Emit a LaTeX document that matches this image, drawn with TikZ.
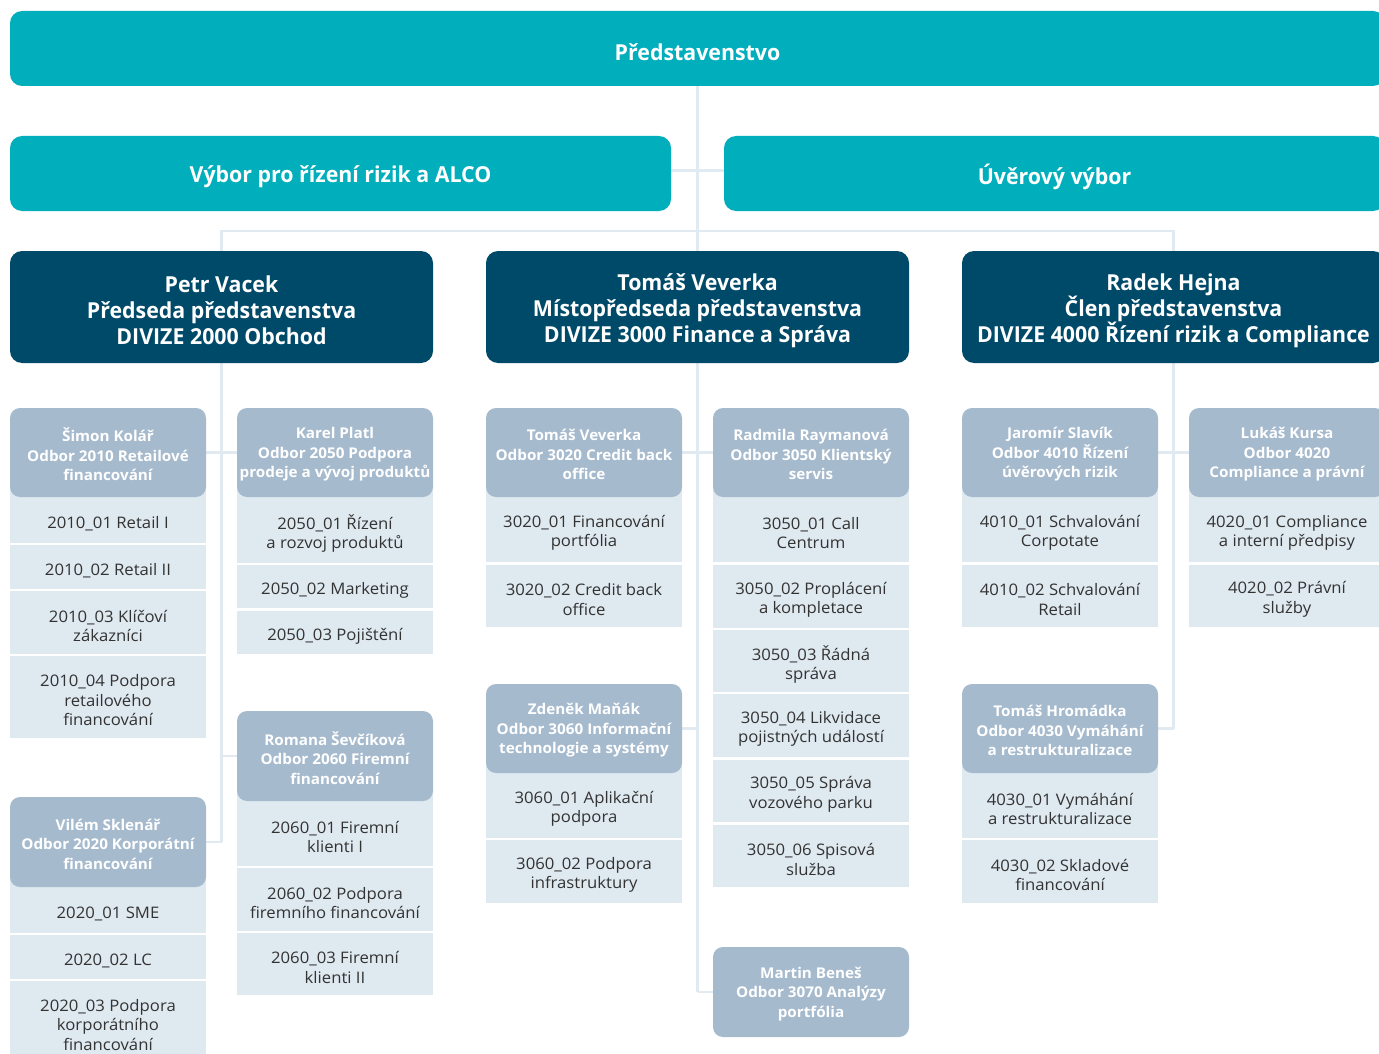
\documentclass[tikz,border=0pt]{standalone}
\usepackage{fontspec}
\setmainfont{Open Sans}
\newfontfamily\topfont{Open Sans}[FakeStretch=0.97]
\newfontfamily\subfont{Open Sans}[FakeStretch=1.05]
\newfontfamily\hdrfont{Open Sans}[FakeStretch=1.03]
\definecolor{tealc}{HTML}{00AEBC}
\definecolor{darkc}{HTML}{004A69}
\definecolor{hdrc}{HTML}{A6BACE}
\definecolor{itemc}{HTML}{DFE9F0}
\definecolor{connc}{HTML}{E2EAF1}
\definecolor{txtc}{HTML}{333333}
\pgfdeclarelayer{bg}
\pgfsetlayers{bg,main}
\tikzset{
  base/.style={inner sep=0pt, align=center},
  topbox/.style={base, fill=tealc, rounded corners=12pt, text=white, font=\topfont\bfseries\fontsize{22}{26}\selectfont, tshift/.initial=3.5pt},
  divbox/.style={base, fill=darkc, rounded corners=12pt, text=white, font=\topfont\bfseries\fontsize{22}{26}\selectfont, tshift/.initial=3.5pt},
  subhdr/.style={base, fill=hdrc, rounded corners=10pt, text=white, font=\hdrfont\bfseries\fontsize{14.8}{19.5}\selectfont, tshift/.initial=2pt},
  cell/.style={base, fill=itemc, text=txtc, font=\subfont\fontsize{15.9}{19.5}\selectfont, tshift/.initial=3.5pt},
  conn/.style={draw=connc, line width=2.5pt}
}
\newcommand\bx[7]{%
  \node[#1, minimum width={(#5-#3)*1pt}, minimum height={(#6-#4)*1pt}] (#2) at ({(#3+#5)/2},{(#4+#6)/2}) {};
  \node[#1, fill=none, minimum width=0pt, minimum height=0pt] (#2t) at ([yshift={-\pgfkeysvalueof{/tikz/tshift}}]#2.center) {#7};}
% header with backing: name, x, ytop, ybot, text
\newcommand\hd[5]{%
  \fill[itemc] (#2,{(#3+#4)/2}) rectangle ({#2+196},{#4+1});
  \bx{subhdr}{#1}{#2}{#3}{#2+196}{#4}{#5}}
\newcommand\hdn[5]{\bx{subhdr}{#1}{#2}{#3}{#2+196}{#4}{#5}}
\newcommand\cl[5]{\bx{cell}{#1}{#2}{#3}{#2+196}{#4}{#5}}
\tikzset{tshift/.initial=0pt}
\begin{document}
\begin{tikzpicture}[x=1pt,y=-1pt]
\useasboundingbox (0,0) rectangle (1379,1054);
\begin{scope}
\clip (0,0) rectangle (1379,1054);
% top levels
\bx{topbox}{top}{10}{11}{1385}{86}{Představenstvo}
\bx{topbox}{c1}{10}{136}{671}{211}{Výbor pro řízení rizik a ALCO}
\bx{topbox}{c2}{724}{136}{1385}{211}{Úvěrový výbor}
\bx{divbox}{d1}{10}{251}{433}{363}{Petr Vacek\\Předseda představenstva\\DIVIZE 2000 Obchod}
\bx{divbox}{d3}{486}{251}{909}{363}{Tomáš Veverka\\Místopředseda představenstva\\DIVIZE 3000 Finance a Správa}
\bx{divbox}{d4}{962}{251}{1385}{363}{Radek Hejna\\Člen představenstva\\DIVIZE 4000 Řízení rizik a Compliance}

% column A
\cl{a1}{10}{497}{543}{2010\_01 Retail I}
\cl{a2}{10}{545}{589}{2010\_02 Retail II}
\cl{a3}{10}{591}{654}{2010\_03 Klíčoví\\zákazníci}
\cl{a4}{10}{656}{738}{2010\_04 Podpora\\retailového\\financování}
\hd{s2010}{10}{408}{497}{Šimon Kolář\\Odbor 2010 Retailové\\financování}
\cl{b1}{10}{887}{933}{2020\_01 SME}
\cl{b2}{10}{935}{979}{2020\_02 LC}
\cl{b3}{10}{981}{1062}{2020\_03 Podpora\\korporátního\\financování}
\hd{s2020}{10}{797}{887}{Vilém Sklenář\\Odbor 2020 Korporátní\\financování}

% column B
\cl{e1}{237}{497}{563}{2050\_01 Řízení\\a rozvoj produktů}
\cl{e2}{237}{565}{608}{2050\_02 Marketing}
\cl{e3}{237}{611}{654}{2050\_03 Pojištění}
\hd{s2050}{237}{408}{497}{Karel Platl\\Odbor 2050 Podpora\\prodeje a vývoj produktů}
\cl{f1}{237}{801}{866}{2060\_01 Firemní\\klienti I}
\cl{f2}{237}{868}{931}{2060\_02 Podpora\\firemního financování}
\cl{f3}{237}{933}{995}{2060\_03 Firemní\\klienti II}
\hd{s2060}{237}{711}{801}{Romana Ševčíková\\Odbor 2060 Firemní\\financování}

% column C
\cl{g1}{486}{497}{562}{3020\_01 Financování\\portfólia}
\cl{g2}{486}{565}{627}{3020\_02 Credit back\\office}
\hd{s3020}{486}{408}{497}{Tomáš Veverka\\Odbor 3020 Credit back\\office}
\cl{h1}{486}{773}{838}{3060\_01 Aplikační\\podpora}
\cl{h2}{486}{840}{903}{3060\_02 Podpora\\infrastruktury}
\hd{s3060}{486}{684}{773}{Zdeněk Maňák\\Odbor 3060 Informační\\technologie a systémy}

% column D
\cl{k1}{713}{497}{562}{3050\_01 Call\\Centrum}
\cl{k2}{713}{565}{628}{3050\_02 Proplácení\\a kompletace}
\cl{k3}{713}{630}{692}{3050\_03 Řádná\\správa}
\cl{k4}{713}{694}{757}{3050\_04 Likvidace\\pojistných událostí}
\cl{k5}{713}{760}{822}{3050\_05 Správa\\vozového parku}
\cl{k6}{713}{825}{887}{3050\_06 Spisová\\služba}
\hd{s3050}{713}{408}{497}{Radmila Raymanová\\Odbor 3050 Klientský\\servis}
\hdn{s3070}{713}{947}{1037}{Martin Beneš\\Odbor 3070 Analýzy\\portfólia}

% column E
\cl{m1}{962}{497}{562}{4010\_01 Schvalování\\Corpotate}
\cl{m2}{962}{565}{627}{4010\_02 Schvalování\\Retail}
\hd{s4010}{962}{408}{497}{Jaromír Slavík\\Odbor 4010 Řízení\\úvěrových rizik}
\cl{n1}{962}{773}{838}{4030\_01 Vymáhání\\a restrukturalizace}
\cl{n2}{962}{840}{903}{4030\_02 Skladové\\financování}
\hd{s4030}{962}{684}{773}{Tomáš Hromádka\\Odbor 4030 Vymáhání\\a restrukturalizace}

% column F
\cl{p1}{1189}{497}{562}{4020\_01 Compliance\\a interní předpisy}
\cl{p2}{1189}{565}{627}{4020\_02 Právní\\služby}
\hd{s4020}{1189}{408}{497}{Lukáš Kursa\\Odbor 4020\\Compliance a právní}

\coordinate (bus) at (697.5,231);
\begin{pgfonlayer}{bg}
\draw[conn] (top.south) -- (d3.north);
\draw[conn] ([yshift=3pt]c1.east) -- ([yshift=3pt]c2.west);
\draw[conn] (d1.north) |- (bus) -| (d4.north);
% division 2000
\draw[conn] (d1.south) -- (d1.south |- s2020.east);
\draw[conn] (s2010.east) -- (s2050.west);
\draw[conn] (s2060.west) -- (s2060.west -| d1.south);
\draw[conn] (s2020.east) -- (s2020.east -| d1.south);
% division 3000
\draw[conn] (d3.south) -- (d3.south |- s3070.west);
\draw[conn] (s3020.east) -- (s3050.west);
\draw[conn] (s3060.east) -- (s3060.east -| d3.south);
\draw[conn] (s3070.west) -- (s3070.west -| d3.south);
% division 4000
\draw[conn] (d4.south) -- (d4.south |- s4030.east);
\draw[conn] (s4010.east) -- (s4020.west);
\draw[conn] (s4030.east) -- (s4030.east -| d4.south);
\end{pgfonlayer}
\end{scope}
\end{tikzpicture}
\end{document}
